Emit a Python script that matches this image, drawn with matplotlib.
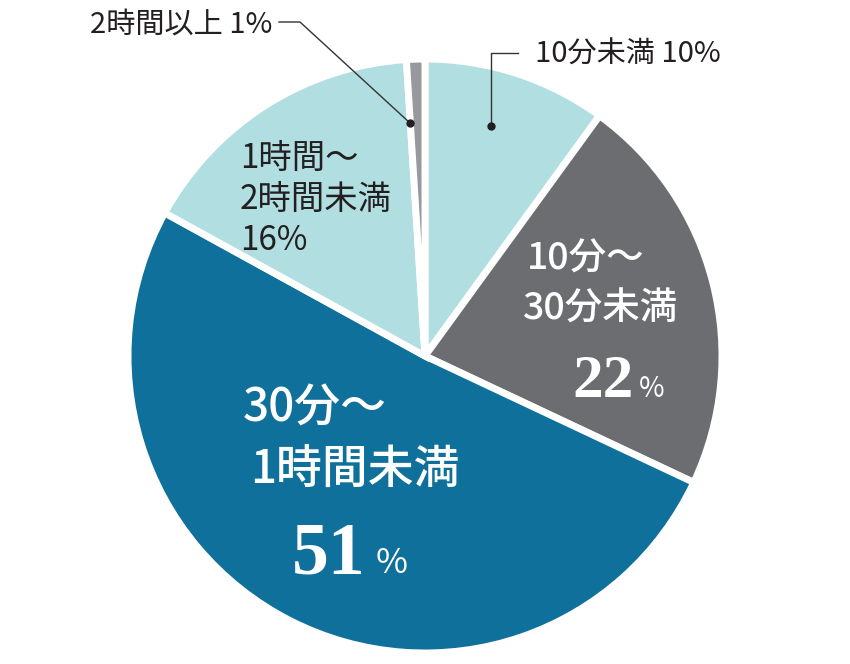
import matplotlib
matplotlib.use("Agg")
import matplotlib.pyplot as plt

categories = ["10分未満", "10分〜30分未満", "30分〜1時間未満", "1時間〜2時間未満", "2時間以上"]
values = [10, 22, 51, 16, 1]
colors = ["#b0dee1", "#6c6d71", "#0f719b", "#b0dee1", "#98999d"]

W, H = 850, 664
fig = plt.figure(figsize=(W / 100, H / 100), dpi=100)
ax = fig.add_axes([0, 0, 1, 1])
ax.pie(values, colors=colors, startangle=90, counterclock=False,
       center=(425, H - 356), radius=297,
       wedgeprops=dict(edgecolor="white", linewidth=5))
ax.set_xlim(0, W)
ax.set_ylim(0, H)
ax.set_aspect("equal")
ax.axis("off")

JP = ["Noto Sans CJK JP", "DejaVu Sans"]
SERIF = ["Liberation Serif", "DejaVu Serif"]
dark = "#231f20"

def Y(y):
    return H - y

# outside labels
ax.text(90, Y(25), "2時間以上 1%", family=JP, fontsize=21, color=dark, ha="left", va="center")
ax.text(535, Y(55), "10分未満 10%", family=JP, fontsize=21, color=dark, ha="left", va="center")

# leader lines
ax.plot([279, 300, 410], [Y(22), Y(22), Y(123)], color="#333333", lw=1.0)
ax.plot([410], [Y(123)], "o", color="#231f20", ms=5)
ax.plot([518, 491, 491], [Y(53), Y(53), Y(126)], color="#333333", lw=1.0)
ax.plot([491], [Y(126)], "o", color="#231f20", ms=5)

# 16% label
ax.text(240, Y(158), "1時間〜", family=JP, fontsize=24, color=dark, ha="left", va="center")
ax.text(240, Y(199), "2時間未満", family=JP, fontsize=24, color=dark, ha="left", va="center")
ax.text(240, Y(240), "16%", family=JP, fontsize=24, color=dark, ha="left", va="center")

# 22% label
ax.text(527, Y(259), "10分〜", family=JP, fontsize=27, color="white", ha="left", va="center", weight="medium")
ax.text(523, Y(309), "30分未満", family=JP, fontsize=27, color="white", ha="left", va="center", weight="medium")
ax.text(634, Y(397), "22", family=SERIF, fontsize=44, color="white", ha="right", va="baseline", weight="bold")
ax.text(639, Y(397), "%", family=JP, fontsize=20, color="white", ha="left", va="baseline")

# 51% label
ax.text(243, Y(408), "30分〜", family=JP, fontsize=33, color="white", ha="left", va="center", weight="medium")
ax.text(250, Y(469), "1時間未満", family=JP, fontsize=33, color="white", ha="left", va="center", weight="medium")
ax.text(365, Y(573), "51", family=SERIF, fontsize=53, color="white", ha="right", va="baseline", weight="bold")
ax.text(376, Y(573), "%", family=JP, fontsize=25, color="white", ha="left", va="baseline")

fig.savefig("out.png", dpi=100)
